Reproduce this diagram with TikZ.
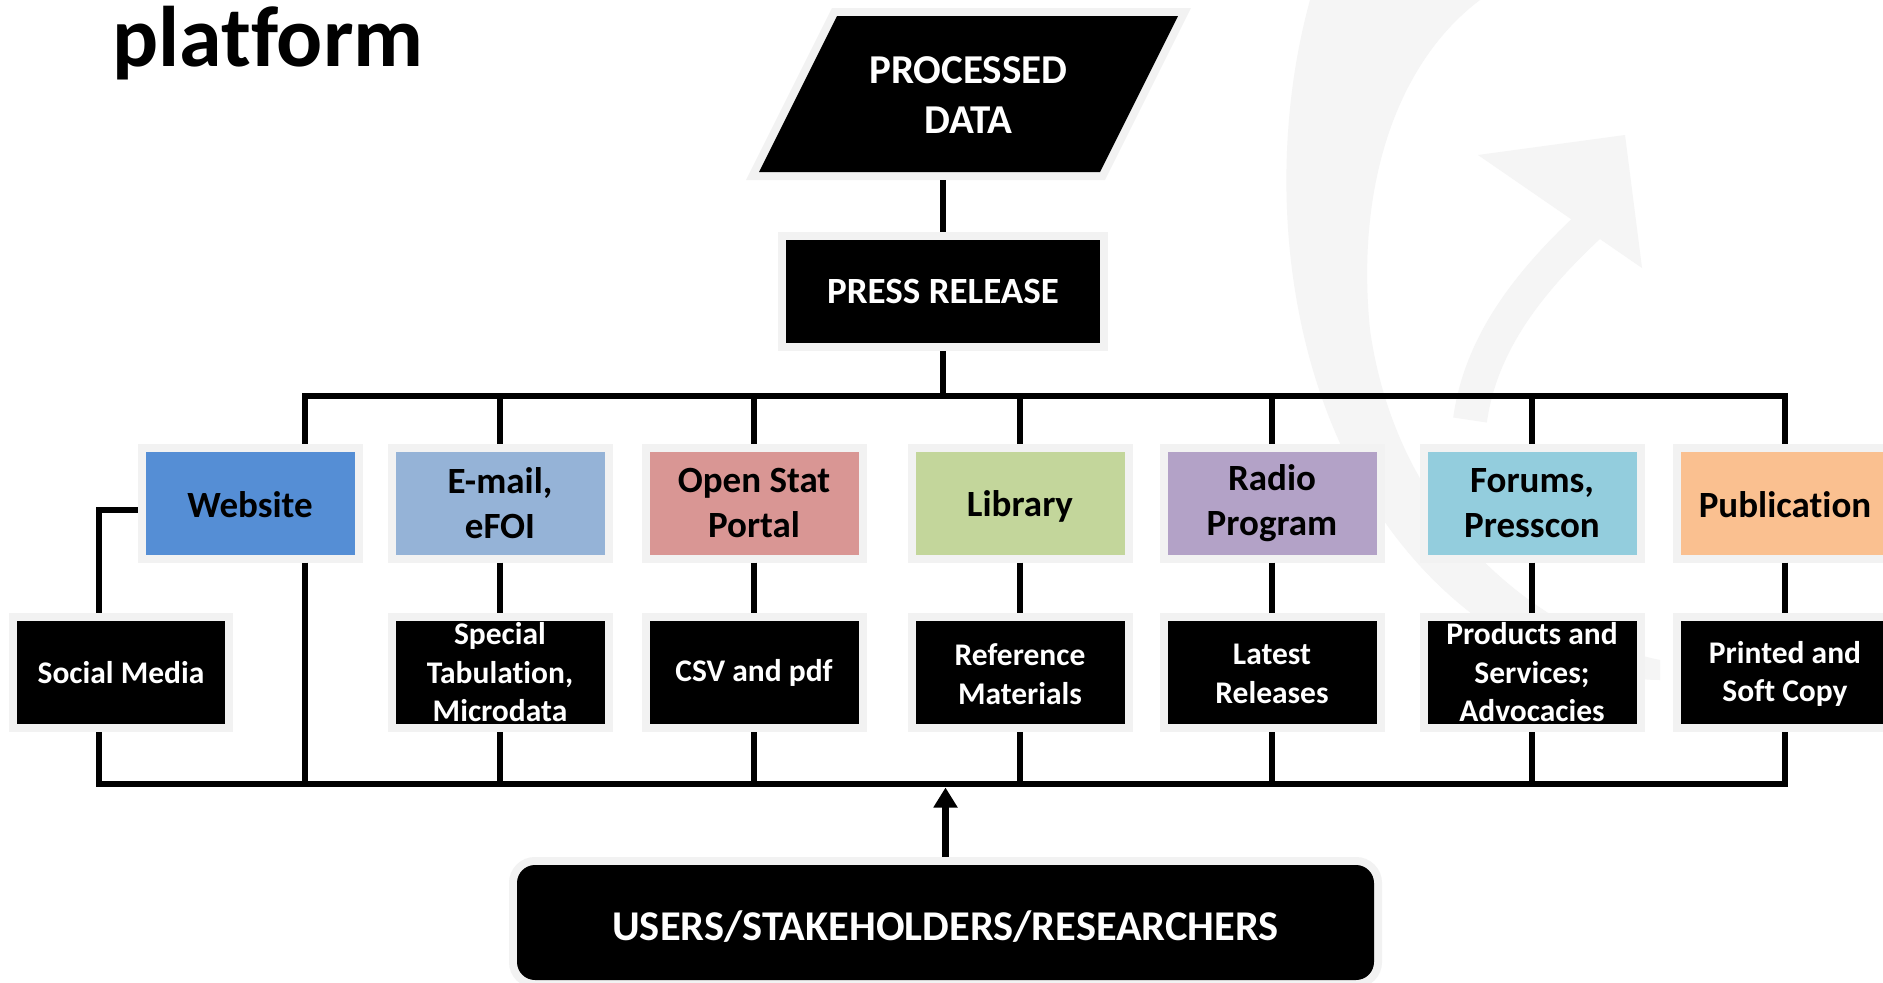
\documentclass[tikz,border=0pt]{standalone}
\usepackage{fontspec}
\setmainfont{Carlito}[Ligatures=NoCommon]
\usetikzlibrary{arrows.meta}
\definecolor{halo}{HTML}{F2F2F2}
\definecolor{wm}{HTML}{F5F5F5}
\definecolor{cWeb}{HTML}{558ED5}
\definecolor{cMail}{HTML}{95B3D7}
\definecolor{cOpen}{HTML}{D99694}
\definecolor{cLib}{HTML}{C3D69B}
\definecolor{cRadio}{HTML}{B3A2C7}
\definecolor{cForum}{HTML}{93CDDD}
\definecolor{cPub}{HTML}{FAC090}
\begin{document}
\begin{tikzpicture}[x=1pt,y=-1pt,
  base/.style={rectangle, minimum width=209pt, minimum height=103pt, inner sep=0pt, outer sep=8pt, preaction={draw=halo, line width=16pt}},
  kbox/.style={base, fill=black},
  ctext/.style={font=\fontsize{37}{44.5}\selectfont\bfseries, align=center, text=black, inner sep=0pt},
  ktext/.style={font=\fontsize{31.5}{38.5}\selectfont\bfseries, align=center, text=white, inner sep=0pt},
  conn/.style={line width=6.5pt, draw=black, line join=miter}
]
\useasboundingbox (0,0) rectangle (1883,983);
\fill[white] (0,0) rectangle (1883,983);
\clip (0,0) rectangle (1883,983);

% faint watermark (curved arrow on the right)
\fill[wm] (1310,0) .. controls (1255,200) and (1290,480) .. (1480,620)
  .. controls (1550,665) and (1620,680) .. (1660,680) -- (1660,660)
  .. controls (1560,640) and (1400,540) .. (1370,330)
  .. controls (1355,180) and (1400,60) .. (1480,0) -- cycle;
\fill[wm] (1478,155) -- (1625,135) -- (1642,268) -- cycle;
\draw[wm, line width=34pt] (1590,225) .. controls (1520,290) and (1480,350) .. (1470,420);

% title
\node[anchor=base west, inner sep=0pt, font=\fontsize{86}{100}\selectfont\bfseries] (title) at (112,66) {platform};

% processed data
\fill[black, preaction={draw=halo, line width=16pt, line join=miter}] (837,16) -- (1178,16) -- (1100,172) -- (759,172) -- cycle;
\node[font=\fontsize{41}{50}\selectfont\bfseries, text=white, align=center, inner sep=0pt] (pd) at (968.5,95) {PROCESSED\\DATA};
\coordinate (pdb) at (943,180);

% press release
\node[kbox, minimum width=314pt] (pr) at (943,291.5) {};
\node[font=\fontsize{37}{44.5}\selectfont\bfseries, text=white, inner sep=0pt] (prT) at (pr) {PRESS RELEASE};

% coloured row
\node[base, fill=cWeb] (web) at (250,503.2) {};
\node[ctext] (webT) at ([yshift=-1pt]web.center) {Website};
\node[base, fill=cMail] (mail) at (500,503.2) {};
\node[ctext] (mailT) at (mail) {E-mail,\\eFOI};
\node[base, fill=cOpen] (open) at (754,503.2) {};
\node[ctext] (openT) at (open) {Open Stat\\Portal};
\node[base, fill=cLib] (lib) at (1020,503.2) {};
\node[ctext] (libT) at ([yshift=-3pt]lib.center) {Library};
\node[base, fill=cRadio] (radio) at (1272,503.2) {};
\node[ctext] (radioT) at (radio) {Radio\\Program};
\node[base, fill=cForum] (forum) at (1532,503.2) {};
\node[ctext] (forumT) at (forum) {Forums,\\Presscon};
\node[base, fill=cPub] (pub) at (1785,503.2) {};
\node[ctext] (pubT) at ([yshift=-1pt]pub.center) {Publication};

% black row
\node[kbox, minimum width=208pt] (social) at (121,672.5) {};
\node[ktext] (socialT) at (social) {Social Media};
\node[kbox] (spec) at (500,672.5) {};
\node[ktext] (specT) at (spec) {Special\\Tabulation,\\Microdata};
\node[kbox] (csv) at (754,672.5) {};
\node[ktext] (csvT) at (csv) {CSV and pdf};
\node[kbox] (ref) at (1020,672.5) {};
\node[ktext] (refT) at ([yshift=-1.5pt]ref.center) {Reference\\Materials};
\node[kbox] (latest) at (1272,672.5) {};
\node[ktext] (latestT) at ([yshift=-1.5pt]latest.center) {Latest\\Releases};
\node[kbox] (prod) at (1532,672.5) {};
\node[ktext] (prodT) at (prod) {Products and\\Services;\\Advocacies};
\node[kbox] (print) at (1785,672.5) {};
\node[ktext] (printT) at ([yshift=-1.5pt]print.center) {Printed and\\Soft Copy};

% users
\node[kbox, rounded corners=18pt, minimum width=857pt, minimum height=115pt] (users) at (945.5,922.5) {};
\node[font=\fontsize{42.4}{50}\selectfont\bfseries, text=white, inner sep=0pt] (usersT) at ([yshift=-4.5pt]users.center) {USERS/STAKEHOLDERS/RESEARCHERS};

% bus coordinates
\coordinate (busT) at (943,396);
\coordinate (busB) at (946,784);

% connectors
\draw[conn] (pdb) -- (pr.north);
\draw[conn] (pr.south) -- (busT);
\draw[conn] ([xshift=55pt]web.north) |- (busT -| pub.north) -- (pub.north);
\foreach \n in {mail,open,lib,radio,forum}{
  \draw[conn] (\n.north |- busT) -- (\n.north);
}
\draw[conn] (mail.south) -- (spec.north);
\draw[conn] (open.south) -- (csv.north);
\draw[conn] (lib.south) -- (ref.north);
\draw[conn] (radio.south) -- (latest.north);
\draw[conn] (forum.south) -- (prod.north);
\draw[conn] (pub.south) -- (print.north);
\draw[conn] ([yshift=-7pt]web.west) -| ([xshift=-22pt]social.north);
\draw[conn] ([xshift=-22pt]social.south) |- (busB -| print.south) -- (print.south);
\draw[conn] ([xshift=55pt]web.south) -- ([xshift=55pt]web.south |- busB);
\foreach \n in {spec,csv,ref,latest,prod}{
  \draw[conn] (\n.south) -- (\n.south |- busB);
}
\draw[conn, -{Triangle[width=23pt,length=20pt]}] (users.north) -- ([yshift=-3.5pt]users.north |- busB);
\end{tikzpicture}
\end{document}
